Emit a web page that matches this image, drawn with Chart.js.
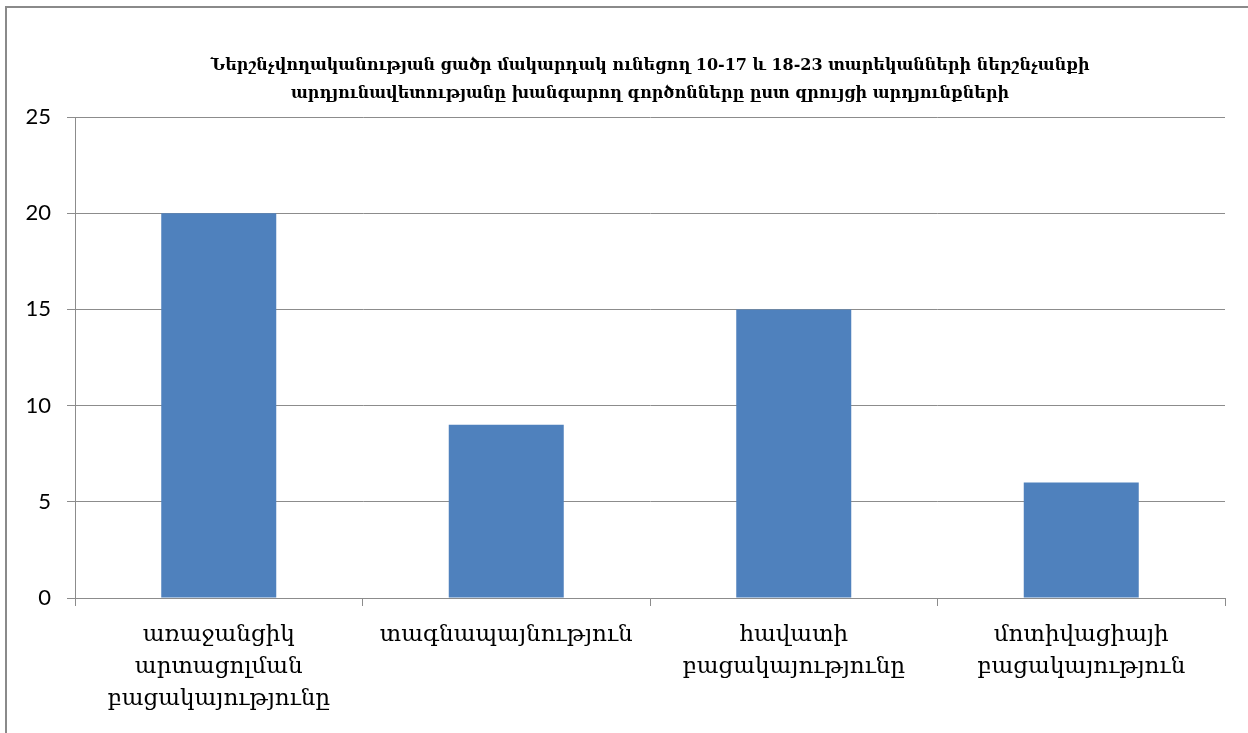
<!DOCTYPE html>
<html>
<head>
<meta charset="utf-8">
<script src="https://cdn.jsdelivr.net/npm/chart.js@4.4.0/dist/chart.umd.min.js"></script>
<style>
  html, body { margin: 0; padding: 0; background: #fff; }
  #wrap { position: relative; width: 1248px; height: 733px; }
  #frame { position: absolute; left: 5px; top: 6px; right: -4px; bottom: -4px; border-left: 2px solid #8a8a8a; border-top: 2px solid #8a8a8a; }
  canvas { position: absolute; left: 0; top: 0; }
</style>
</head>
<body>
<div id="wrap">
  <div id="frame"></div>
  <canvas id="chart" width="1248" height="733"></canvas>
</div>
<script>
// Chart data
const titleLines = [
  'Ներշնչվողականության ցածր մակարդակ ունեցող 10-17 և 18-23 տարեկանների ներշնչանքի',
  'արդյունավետությանը խանգարող գործոնները ըստ զրույցի արդյունքների'
];
const categories = [
  ['առաջանցիկ', 'արտացոլման', 'բացակայությունը'],
  ['տագնապայնություն'],
  ['հավատի', 'բացակայությունը'],
  ['մոտիվացիայի', 'բացակայություն']
];
const values = [20, 9, 15, 6];
const yMax = 25;
const yStep = 5;

const gridGray = '#8c8c8c';

new Chart(document.getElementById('chart'), {
  type: 'bar',
  data: {
    labels: categories,
    datasets: [{
      data: values,
      backgroundColor: '#4f81bd',
      borderWidth: 0,
      barPercentage: 0.4,
      categoryPercentage: 1.0
    }]
  },
  options: {
    responsive: false,
    animation: false,
    layout: { padding: { left: 0, right: 23, top: 0, bottom: 0 } },
    plugins: {
      legend: { display: false },
      tooltip: { enabled: false },
      title: {
        display: true,
        text: titleLines,
        fullSize: false,
        color: '#000',
        font: { family: 'DejaVu Serif', size: 16, weight: 'bold', lineHeight: 1.75 },
        padding: { top: 52, bottom: 9 }
      }
    },
    scales: {
      x: {
        grid: { display: true, drawOnChartArea: false, drawTicks: true, tickLength: 8, color: gridGray },
        border: { color: gridGray },
        ticks: {
          color: '#000',
          font: { family: 'DejaVu Serif', size: 23, lineHeight: 1.39 },
          padding: 13,
          maxRotation: 0,
          autoSkip: false
        },
        afterFit: (scale) => { scale.height = 135; }
      },
      y: {
        min: 0,
        max: yMax,
        ticks: {
          stepSize: yStep,
          color: '#000',
          font: { family: 'Lato', size: 22 },
          padding: 16
        },
        grid: { color: gridGray, tickLength: 8 },
        border: { color: gridGray },
        afterFit: (scale) => { scale.width = 75; }
      }
    }
  }
});
</script>
</body>
</html>
